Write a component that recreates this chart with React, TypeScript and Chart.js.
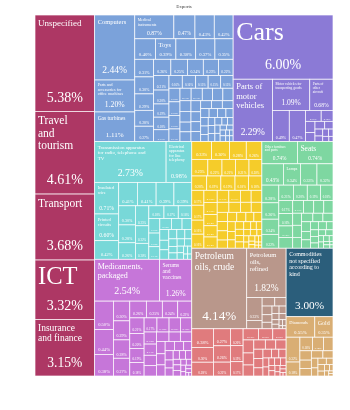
import React, { useEffect, useRef } from "react";
import { Chart, registerables } from "chart.js";

Chart.register(...registerables);

const chartTitle = "Exports";

// ---- Data (shares of exports, %) ----
const servicesNames = ["Unspecified", "Travel and tourism", "Transport", "ICT", "Insurance and finance"];
const servicesValues = [5.38, 4.61, 3.68, 3.32, 3.15];

const machinesNames = ["Computers", "Parts and accessories for office machines", "Gas turbines", "Medical instruments", "", "", "", "", "Toys"];
const machinesValues = [2.44, 1.2, 1.11, 0.87, 0.47, 0.43, 0.42, 0.4, 0.39, 0.38, 0.37, 0.35, 0.31, 0.3, 0.29, 0.28, 0.27, 0.26, 0.25, 0.24, 0.23, 0.22, 0.21, 0.2, 0.19, 0.18, 0.17, 0.16, 0.16, 0.15, 0.15, 0.15, 0.14, 0.14, 0.14, 0.13, 0.13, 0.13, 0.12, 0.12, 0.12, 0.11, 0.11, 0.1, 0.1, 0.1, 0.09, 0.09, 0.09, 0.08, 0.08, 0.08, 0.07, 0.07, 0.07, 0.06, 0.06, 0.06, 0.05, 0.05, 0.05, 0.05, 0.05, 0.04, 0.04, 0.04, 0.04, 0.03, 0.03, 0.03, 0.03, 0.02, 0.02, 0.02, 0.02];

const vehiclesNames = ["Cars", "Parts of motor vehicles", "Motor vehicles for transporting goods", "Parts of other aircraft"];
const vehiclesValues = [6.0, 2.29, 1.09, 0.68, 0.49, 0.47, 0.16, 0.12, 0.1, 0.08, 0.07, 0.06, 0.05, 0.04, 0.04, 0.03, 0.03, 0.02];

const electronicsNames = ["Transmission apparatus for radio, telephone and TV", "Electrical apparatus for line telephony", "Insulated wire", "Printed circuits"];
const electronicsValues = [2.73, 0.98, 0.71, 0.6, 0.42, 0.41, 0.41, 0.39, 0.39, 0.3, 0.28, 0.26, 0.25, 0.22, 0.2, 0.18, 0.17, 0.16, 0.15, 0.14, 0.13, 0.12, 0.11, 0.1, 0.09, 0.08, 0.08, 0.07, 0.07, 0.06, 0.06, 0.05, 0.05, 0.05, 0.05, 0.04, 0.04, 0.03, 0.03, 0.02, 0.02];

const chemicalsNames = ["Medicaments, packaged", "Serums and vaccines"];
const chemicalsValues = [2.54, 1.26, 0.5, 0.44, 0.38, 0.3, 0.29, 0.28, 0.27, 0.26, 0.25, 0.24, 0.22, 0.21, 0.2, 0.19, 0.18, 0.17, 0.16, 0.15, 0.15, 0.14, 0.13, 0.12, 0.12, 0.11, 0.1, 0.1, 0.1, 0.09, 0.09, 0.08, 0.08, 0.07, 0.07, 0.06, 0.06, 0.05, 0.05, 0.05, 0.04, 0.04, 0.04, 0.03, 0.03, 0.03, 0.02, 0.02, 0.02, 0.01, 0.01];

const metalsNames: string[] = [];
const metalsValues = [0.33, 0.3, 0.28, 0.26, 0.25, 0.22, 0.21, 0.21, 0.2, 0.2, 0.19, 0.19, 0.18, 0.18, 0.17, 0.17, 0.16, 0.16, 0.15, 0.15, 0.14, 0.14, 0.14, 0.13, 0.13, 0.12, 0.12, 0.11, 0.11, 0.1, 0.1, 0.09, 0.09, 0.09, 0.08, 0.08, 0.08, 0.07, 0.07, 0.07, 0.06, 0.06, 0.06, 0.05, 0.05, 0.05, 0.05, 0.04, 0.04, 0.04, 0.04, 0.03, 0.03, 0.03, 0.03, 0.02, 0.02, 0.02, 0.02, 0.01, 0.01, 0.01, 0.01];

const furnitureNames = ["Other furniture and parts", "Seats", "", "Lamps"];
const furnitureValues = [0.74, 0.74, 0.43, 0.34, 0.33, 0.32, 0.28, 0.26, 0.24, 0.22, 0.21, 0.2, 0.19, 0.18, 0.17, 0.16, 0.15, 0.14, 0.13, 0.12, 0.12, 0.11, 0.1, 0.1, 0.09, 0.09, 0.08, 0.08, 0.08, 0.07, 0.07, 0.06, 0.06, 0.05, 0.05, 0.05, 0.04, 0.04, 0.04, 0.03, 0.03, 0.03, 0.02, 0.02, 0.02, 0.01, 0.01];

const mineralsNames = ["Petroleum oils, crude", "Petroleum oils, refined"];
const mineralsValues = [4.14, 1.82, 0.33, 0.12, 0.1, 0.09, 0.08, 0.07, 0.06, 0.05, 0.05, 0.04, 0.04, 0.03, 0.03, 0.02, 0.02, 0.01, 0.01];

const textilesNames: string[] = [];
const textilesValues = [0.38, 0.3, 0.28, 0.27, 0.26, 0.22, 0.2, 0.19, 0.17, 0.16, 0.15, 0.14, 0.13, 0.12, 0.11, 0.1, 0.09, 0.09, 0.08, 0.08, 0.07, 0.07, 0.06, 0.06, 0.05, 0.05, 0.04, 0.04, 0.04, 0.03, 0.03, 0.03, 0.02, 0.02, 0.02, 0.01, 0.01];

const commoditiesNames = ["Commodities not specified according to kind"];
const commoditiesValues = [3.0];

const preciousNames = ["Diamonds", "Gold"];
const preciousValues = [0.55, 0.35, 0.32, 0.18, 0.16, 0.14, 0.12, 0.1, 0.09, 0.08, 0.08, 0.07, 0.06, 0.05, 0.05, 0.04, 0.04, 0.03, 0.03, 0.02, 0.02, 0.01, 0.01];

// ---- Group table built from the arrays ----
type Group = { names: string[]; values: number[]; color: string };
const groups: Record<string, Group> = {
  services: { names: servicesNames, values: servicesValues, color: "#AD3764" },
  machines: { names: machinesNames, values: machinesValues, color: "#7BA2DA" },
  vehicles: { names: vehiclesNames, values: vehiclesValues, color: "#8B7AD6" },
  electronics: { names: electronicsNames, values: electronicsValues, color: "#78D8D8" },
  chemicals: { names: chemicalsNames, values: chemicalsValues, color: "#C676D9" },
  metals: { names: metalsNames, values: metalsValues, color: "#F5CC2A" },
  furniture: { names: furnitureNames, values: furnitureValues, color: "#7ED7A1" },
  minerals: { names: mineralsNames, values: mineralsValues, color: "#B9978B" },
  textiles: { names: textilesNames, values: textilesValues, color: "#E07B7D" },
  commodities: { names: commoditiesNames, values: commoditiesValues, color: "#2B5E7B" },
  precious: { names: preciousNames, values: preciousValues, color: "#D9AE74" },
};

type TreeNode = string | { dir: "h" | "v"; kids: TreeNode[] };
const groupArrangement: TreeNode = {
  dir: "h",
  kids: [
    "services",
    {
      dir: "v",
      kids: [
        { dir: "h", kids: ["machines", "vehicles"] },
        {
          dir: "h",
          kids: [
            { dir: "v", kids: ["electronics", "chemicals"] },
            {
              dir: "v",
              kids: [
                { dir: "h", kids: ["metals", "furniture"] },
                {
                  dir: "h",
                  kids: [
                    { dir: "v", kids: ["minerals", "textiles"] },
                    { dir: "v", kids: ["commodities", "precious"] },
                  ],
                },
              ],
            },
          ],
        },
      ],
    },
  ],
};

type Leaf = { x: number; y: number; w: number; h: number; name: string; value: number; color: string };

function nodeSum(n: TreeNode): number {
  if (typeof n === "string") return groups[n].values.reduce((a, b) => a + b, 0);
  return n.kids.reduce((a, k) => a + nodeSum(k), 0);
}

const RATIO = 1;

function squarify(items: { name: string; value: number }[], x0: number, y0: number, x1: number, y1: number, color: string, out: Leaf[]) {
  const n = items.length;
  let value = items.reduce((a, b) => a + b.value, 0);
  let i0 = 0;
  let i1 = 0;
  while (i0 < n) {
    const dx = x1 - x0;
    const dy = y1 - y0;
    let sumValue = items[i1++].value;
    let minValue = sumValue;
    let maxValue = sumValue;
    const alpha = Math.max(dy / dx, dx / dy) / (value * RATIO);
    let beta = sumValue * sumValue * alpha;
    let minRatio = Math.max(maxValue / beta, beta / minValue);
    for (; i1 < n; ++i1) {
      const nv = items[i1].value;
      sumValue += nv;
      if (nv < minValue) minValue = nv;
      if (nv > maxValue) maxValue = nv;
      beta = sumValue * sumValue * alpha;
      const newRatio = Math.max(maxValue / beta, beta / minValue);
      if (newRatio > minRatio) {
        sumValue -= nv;
        break;
      }
      minRatio = newRatio;
    }
    const row = items.slice(i0, i1);
    const last = i1 >= n;
    if (dx < dy) {
      const ny = last ? y1 : y0 + (dy * sumValue) / value;
      let x = x0;
      row.forEach((it, k) => {
        const w = k === row.length - 1 ? x1 - x : ((x1 - x0) * it.value) / sumValue;
        out.push({ x, y: y0, w, h: ny - y0, name: it.name, value: it.value, color });
        x += w;
      });
      y0 = ny;
    } else {
      const nx = last ? x1 : x0 + (dx * sumValue) / value;
      let y = y0;
      row.forEach((it, k) => {
        const h = k === row.length - 1 ? y1 - y : ((y1 - y0) * it.value) / sumValue;
        out.push({ x: x0, y, w: nx - x0, h, name: it.name, value: it.value, color });
        y += h;
      });
      x0 = nx;
    }
    value -= sumValue;
    i0 = i1;
  }
}

function layoutNode(n: TreeNode, x0: number, y0: number, x1: number, y1: number, out: Leaf[]) {
  if (typeof n === "string") {
    const g = groups[n];
    const items = g.values.map((v, i) => ({ name: g.names[i] || "", value: v })).sort((a, b) => b.value - a.value);
    squarify(items, x0, y0, x1, y1, g.color, out);
    return;
  }
  const total = nodeSum(n);
  let pos = n.dir === "h" ? x0 : y0;
  n.kids.forEach((k, i) => {
    const frac = nodeSum(k) / total;
    if (n.dir === "h") {
      const end = i === n.kids.length - 1 ? x1 : pos + (x1 - x0) * frac;
      layoutNode(k, pos, y0, end, y1, out);
      pos = end;
    } else {
      const end = i === n.kids.length - 1 ? y1 : pos + (y1 - y0) * frac;
      layoutNode(k, x0, pos, x1, end, out);
      pos = end;
    }
  });
}

const FONT = '"Liberation Serif", "DejaVu Serif", serif';

function fitName(ctx: CanvasRenderingContext2D, name: string, w: number, h: number) {
  const maxW = w * 0.78 - 2;
  const maxH = (h - 6) * 0.5;
  const words = name.split(" ");
  for (let s = 26; s >= 3; s -= 0.5) {
    ctx.font = `${s}px ${FONT}`;
    let ok = true;
    const lines: string[] = [];
    let cur = "";
    for (const wd of words) {
      if (ctx.measureText(wd).width > maxW) {
        ok = false;
        break;
      }
      const t = cur ? cur + " " + wd : wd;
      if (ctx.measureText(t).width <= maxW) cur = t;
      else {
        lines.push(cur);
        cur = wd;
      }
    }
    if (!ok) continue;
    if (cur) lines.push(cur);
    if (lines.length * s * 1.08 <= maxH) return { s, lines };
  }
  return null;
}

const treemapPlugin = {
  id: "treemapCells",
  afterDatasetsDraw(chart: any) {
    const { ctx, scales } = chart;
    const xs = scales.x;
    const ys = scales.y;
    const x0 = xs.getPixelForValue(0);
    const x1 = xs.getPixelForValue(1);
    const y0 = ys.getPixelForValue(1);
    const y1 = ys.getPixelForValue(0);
    const leaves: Leaf[] = [];
    layoutNode(groupArrangement, x0, y0, x1, y1, leaves);
    ctx.save();
    for (const c of leaves) {
      ctx.fillStyle = c.color;
      ctx.fillRect(c.x, c.y, c.w, c.h);
      ctx.strokeStyle = "rgba(255,255,255,0.85)";
      ctx.lineWidth = 0.8;
      ctx.strokeRect(c.x, c.y, c.w, c.h);
    }
    ctx.fillStyle = "#ffffff";
    ctx.textAlign = "left";
    ctx.textBaseline = "alphabetic";
    for (const c of leaves) {
      if (c.w < 6 || c.h < 6) continue;
      const pfs = Math.min(14, Math.min(c.w, c.h) * 0.24);
      let pctTop = c.y + c.h;
      if (pfs >= 2.6) {
        const txt = c.value.toFixed(2) + "%";
        ctx.font = `${pfs}px ${FONT}`;
        const tw = ctx.measureText(txt).width;
        if (tw < c.w - 2) {
          ctx.textAlign = "center";
          const base = c.y + c.h - Math.max(1.5, pfs * 0.7);
          ctx.fillText(txt, c.x + c.w / 2, base);
          pctTop = base - pfs;
          ctx.textAlign = "left";
        }
      }
      if (c.name) {
        const fit = fitName(ctx, c.name, c.w, c.h);
        if (fit) {
          ctx.font = `${fit.s}px ${FONT}`;
          fit.lines.forEach((ln, i) => {
            const by = c.y + 3 + fit.s * 0.85 + i * fit.s * 1.08;
            if (by < pctTop + 2 || i === 0) ctx.fillText(ln, c.x + 3, by);
          });
        }
      }
    }
    ctx.restore();
  },
};

export default function App() {
  const canvasRef = useRef<HTMLCanvasElement | null>(null);
  useEffect(() => {
    if (!canvasRef.current) return;
    const chart = new Chart(canvasRef.current, {
      type: "scatter",
      data: { datasets: [{ data: [] }] },
      options: {
        animation: false,
        responsive: true,
        maintainAspectRatio: false,
        layout: { padding: { left: 35, right: 17, top: 0, bottom: 34 } },
        scales: {
          x: { type: "linear", min: 0, max: 1, display: false },
          y: { type: "linear", min: 0, max: 1, display: false },
        },
        plugins: {
          legend: { display: false },
          tooltip: { enabled: false },
          title: {
            display: true,
            text: chartTitle,
            color: "#444",
            font: { size: 5, family: FONT, weight: "normal" },
            padding: { top: 4, bottom: 5 },
          },
        },
      },
      plugins: [treemapPlugin],
    });
    return () => chart.destroy();
  }, []);
  return (
    <div style={{ position: "absolute", left: 0, top: 0, width: 350, height: 410, background: "#fff" }}>
      <canvas ref={canvasRef} />
    </div>
  );
}
